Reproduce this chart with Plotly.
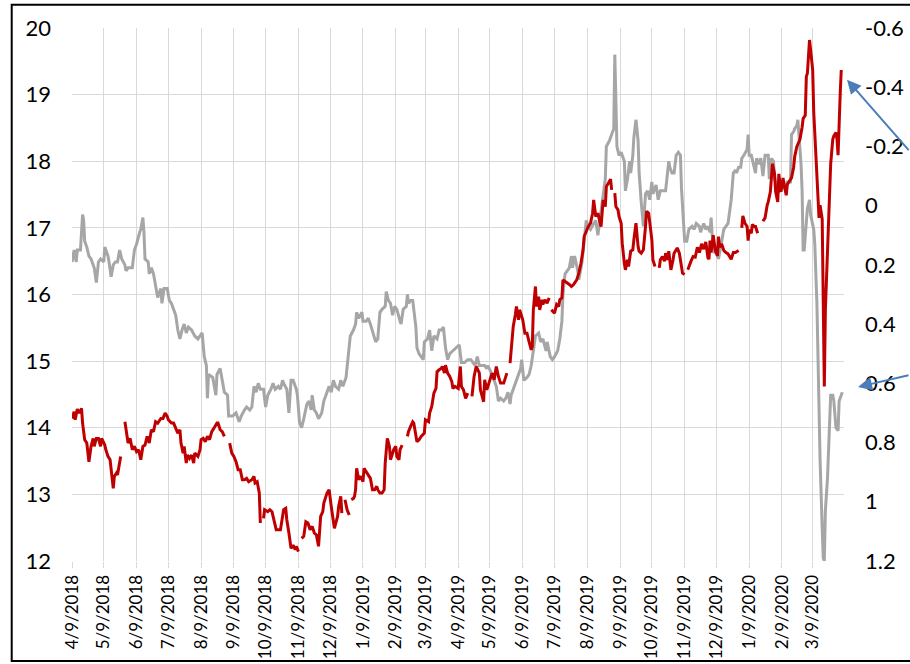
import pandas as pd
import plotly.graph_objects as go

start_date = "4/9/2018"
tick_labels = ["4/9/2018", "5/9/2018", "6/9/2018", "7/9/2018", "8/9/2018", "9/9/2018",
               "10/9/2018", "11/9/2018", "12/9/2018", "1/9/2019", "2/9/2019", "3/9/2019",
               "4/9/2019", "5/9/2019", "6/9/2019", "7/9/2019", "8/9/2019", "9/9/2019",
               "10/9/2019", "11/9/2019", "12/9/2019", "1/9/2020", "2/9/2020", "3/9/2020"]
left_ticks = [12, 13, 14, 15, 16, 17, 18, 19, 20]
right_ticks = [-0.6, -0.4, -0.2, 0, 0.2, 0.4, 0.6, 0.8, 1, 1.2]
right_tick_labels = ["-0.6", "-0.4", "-0.2", "0", "0.2", "0.4", "0.6", "0.8", "1", "1.2"]

# grey series (right axis, inverted) - days since start date
gray_days = [0, 2, 4, 5, 8, 10, 11, 12, 14, 16,
             18, 21, 23, 25, 27, 30, 31, 34, 35, 37,
             39, 41, 43, 45, 47, 50, 51, 53, 56, 57,
             59, 61, 64, 65, 67, 68, 69, 72, 73, 75,
             77, 79, 81, 84, 85, 87, 90, 92, 94, 96,
             98, 100, 102, 104, 106, 108, 110, 113,
             116, 119, 123, 125, 127, 128, 129, 133, 136, 137,
             140, 142, 144, 147, 148, 152, 155, 158, 160, 163,
             165, 168, 170, 172, 174, 176, 178, 181, 183, 185,
             188, 190, 192, 195, 197, 199, 200, 203, 205, 207,
             209, 212, 213, 215, 217, 219, 222, 224, 226, 227,
             229, 231, 233, 236, 238, 241, 243,
             245, 247, 249, 252, 254, 256, 259, 261, 263, 266,
             268, 269, 271, 274, 275, 278, 280, 282, 285, 287,
             289, 291, 293, 296, 297, 299, 301, 303, 305, 307,
             310, 311, 313, 316, 317, 318, 320, 322, 325, 326,
             328, 330, 332, 333, 336, 338, 340, 342, 345, 347,
             349, 351, 353, 355,
             357, 360, 363, 366, 368, 371, 374, 377, 379, 381,
             383, 385, 387, 390, 392, 393, 397, 399, 401, 403,
             405, 408, 410, 412, 414, 415, 417, 419, 422, 424,
             425, 427, 430, 432, 434, 436, 438, 441, 443, 445,
             448, 449, 452, 454, 456, 459, 461, 463, 464, 466,
             468, 470, 472, 473, 475,
             478, 479, 482, 484, 486, 488, 490, 493, 495, 497,
             500, 502, 504, 505, 508, 510, 512, 513, 515, 517,
             519, 522, 523, 525, 527, 528, 530, 531, 533, 535,
             536, 538, 540, 542, 544, 546, 548, 549, 552, 554,
             556, 559, 561, 564, 565, 567, 569, 571, 573, 575,
             576, 578, 579, 581, 583, 586, 588,
             590, 593, 594, 597, 599, 601, 603, 604, 605, 607,
             609, 611, 613, 616, 618, 620, 623, 625, 627, 628,
             630, 632, 633, 635, 638, 639, 640, 642, 644, 646,
             647, 649, 651, 653, 655, 658, 659, 661, 663, 664,
             667, 669, 671, 674, 676, 679, 680, 682, 683, 685,
             686, 687, 689, 690, 691, 692, 694, 695, 697, 698,
             701, 702, 704, 705, 707, 709, 710, 711, 712, 714,
             716, 717, 719, 720, 722, 724, 725, 727, 728]
gray_vals = [0.19, 0.15, 0.19, 0.15, 0.15, 0.03, 0.05, 0.12, 0.14, 0.17,
             0.18, 0.21, 0.26, 0.19, 0.18, 0.19, 0.14, 0.17, 0.19, 0.24,
             0.20, 0.19, 0.19, 0.15, 0.18, 0.20, 0.22, 0.21, 0.21, 0.21,
             0.15, 0.13, 0.09, 0.08, 0.04, 0.09, 0.18, 0.19, 0.23, 0.21,
             0.23, 0.27, 0.31, 0.28, 0.33, 0.28, 0.28, 0.32, 0.33, 0.35,
             0.37, 0.42, 0.45, 0.42, 0.40, 0.43, 0.41, 0.42,
             0.44, 0.45, 0.43, 0.51, 0.54, 0.65, 0.57, 0.58, 0.64, 0.57,
             0.55, 0.59, 0.63, 0.64, 0.71, 0.71, 0.70, 0.73, 0.71, 0.69,
             0.68, 0.69, 0.68, 0.61, 0.63, 0.60, 0.62, 0.62, 0.68, 0.64,
             0.62, 0.60, 0.62, 0.61, 0.62, 0.59, 0.60, 0.62, 0.70, 0.59,
             0.59, 0.62, 0.64, 0.73, 0.75, 0.72, 0.67, 0.66, 0.69, 0.64,
             0.69, 0.70, 0.72, 0.70, 0.66, 0.63, 0.61,
             0.63, 0.59, 0.61, 0.62, 0.59, 0.61, 0.58, 0.52, 0.44, 0.42,
             0.40, 0.36, 0.38, 0.36, 0.39, 0.39, 0.38, 0.40, 0.44, 0.46,
             0.45, 0.36, 0.35, 0.34, 0.29, 0.32, 0.33, 0.37, 0.34, 0.35,
             0.39, 0.40, 0.35, 0.34, 0.30, 0.33, 0.32, 0.32, 0.41, 0.48,
             0.50, 0.51, 0.52, 0.46, 0.45, 0.42, 0.49, 0.44, 0.45, 0.42,
             0.42, 0.41, 0.48, 0.52,
             0.50, 0.49, 0.48, 0.47, 0.53, 0.53, 0.52, 0.52, 0.53, 0.54,
             0.51, 0.54, 0.54, 0.54, 0.55, 0.54, 0.57, 0.59, 0.61, 0.66,
             0.65, 0.66, 0.65, 0.63, 0.67, 0.64, 0.62, 0.60, 0.57, 0.55,
             0.52, 0.59, 0.58, 0.57, 0.54, 0.49, 0.44, 0.43, 0.46, 0.45,
             0.49, 0.46, 0.51, 0.52, 0.51, 0.49, 0.45, 0.39, 0.30, 0.23,
             0.22, 0.21, 0.17, 0.21, 0.17,
             0.22, 0.25, 0.19, 0.12, 0.05, 0.07, 0.08, 0.06, 0.05, 0.10,
             0.01, -0.03, -0.09, -0.20, -0.22, -0.24, -0.26, -0.51, -0.20, -0.17,
             -0.18, -0.15, -0.05, -0.09, -0.15, -0.11, -0.17, -0.23, -0.29, -0.22,
             -0.11, -0.01, 0.07, -0.04, -0.05, -0.02, -0.08, -0.04, -0.07, -0.02,
             -0.05, -0.05, -0.05, -0.15, -0.13, -0.11, -0.11, -0.17, -0.18, -0.17,
             -0.06, 0.06, 0.12, 0.12, 0.08, 0.07, 0.08,
             0.06, 0.07, 0.09, 0.06, 0.08, 0.07, 0.09, 0.04, 0.10, 0.16,
             0.15, 0.18, 0.14, 0.08, 0.07, 0.06, -0.02, -0.11, -0.12, -0.11,
             -0.13, -0.13, -0.16, -0.17, -0.19, -0.24, -0.17, -0.17, -0.14, -0.11,
             -0.16, -0.14, -0.16, -0.10, -0.17, -0.17, -0.09, -0.16, -0.15, -0.09,
             -0.06, -0.05, -0.06, -0.06, -0.08, -0.08, -0.24, -0.25, -0.26, -0.27,
             -0.29, -0.24, -0.14, -0.05, 0.15, 0.15, 0.07, 0.01, -0.02, 0.03,
             0.08, 0.13, 0.33, 0.56, 0.86, 1.09, 1.19, 1.20, 1.03, 0.92,
             0.68, 0.64, 0.64, 0.66, 0.75, 0.76, 0.66, 0.64, 0.63]

# red series (left axis) - None marks breaks in the line
red_days = [0, 2, 3, 5, 7, 9, 10, 12, 14, 16, 18, 20, 21, 23, 25, 27, 28, 31, 32, 34,
            36, 38, 39, 40, 42, 43, 45, 46, 48,
            50, 52, 53, 55, 57, 59, 61, 63, 65, 67, 69, 71, 73, 75, 77, 79, 81, 84, 86, 88,
            90, 91, 94, 96, 98, 100, 102, 103, 105, 106, 108, 109, 111, 113, 115, 116, 119,
            121, 122, 124, 126, 128, 130, 132, 134, 137, 138, 140, 142, 144, 147,
            149, 151, 153, 155, 157, 159, 161, 163, 165, 167, 170, 172, 173, 175, 177, 178, 180,
            181, 182, 185, 187, 189, 191, 193, 195, 197, 199, 200, 202, 203, 205, 207, 209,
            211, 212, 214, 216,
            217, 219, 221, 223, 225, 227, 229, 231, 233, 235, 237, 238, 241, 243, 245, 247,
            248, 251, 252, 254, 255, 257,
            258, 260, 262, 263,
            264, 266, 267, 268, 269, 271, 273, 275, 276, 278, 281, 282, 284, 286, 288, 289,
            291, 293, 295, 296, 298, 300, 301, 303, 304, 306, 307, 309, 310, 312, 315,
            317, 318, 320, 322, 323, 325, 326, 328, 330, 333, 334, 337, 338, 340, 342, 344,
            345, 347, 349, 350, 352, 353, 355, 357, 359, 360, 362, 365, 367, 368, 370, 372,
            374, 376,
            378, 380, 382, 385, 386, 389, 390, 392, 394, 397, 399, 401, 403, 405, 408, 410,
            411, 413,
            414, 415, 417, 419, 420, 422, 423, 425, 426, 428, 430, 432, 434, 435, 436, 438,
            439, 441, 442, 444, 445, 447, 449, 451, 452,
            453, 455, 456, 458, 460, 461, 463, 464, 466, 468, 470, 472, 474, 477, 479, 481,
            483, 484, 486, 488, 490, 492, 493, 495, 497, 499, 500, 502, 504, 505, 507, 509,
            510, 511,
            513, 514, 516, 517, 519, 520, 522, 523, 525, 526, 528, 530, 531, 533, 535, 536,
            538, 540, 542, 543, 545, 546, 548, 549, 551, 553,
            555, 556, 558, 560, 561, 563, 564, 566, 568, 569, 571, 572, 574, 576, 577, 579, 580,
            582, 583, 585, 587, 589, 591, 593, 595, 597, 599, 601, 602, 603, 604, 606, 608,
            610, 611, 612, 614, 616, 618, 620, 623, 625, 627, 630, 631,
            633, 634, 636, 638, 639, 640, 642, 643, 645, 646, 648, 650,
            653, 655, 657, 658, 660, 661, 662, 664, 665, 667, 668, 670, 672, 673, 675, 676,
            678, 680, 682, 683, 685, 686, 688, 690, 691, 693, 694, 695, 697, 698, 700, 701,
            703, 705, 706, 707, 709, 710, 711, 712, 714, 716, 717, 719, 720, 722, 723, 724,
            725, 726, 727]
red_vals = [14.14, 14.24, 14.12, 14.28, 14.22, 14.29, 14.07, 13.82, 13.77, 13.49, 13.72, 13.84, 13.72, 13.84, 13.84, 13.72, 13.84, 13.74, 13.67, 13.57,
            13.52, 13.27, 13.09, 13.27, 13.32, 13.29, 13.47, 13.57, None,
            14.09, 13.87, 13.77, 13.84, 13.67, 13.72, 13.64, 13.67, 13.52, 13.72, 13.74, 13.87, 13.77, 13.97, 13.94, 14.09, 14.07, 14.14, 14.14, 14.22,
            14.17, 14.12, 14.07, 14.07, 13.99, 13.92, 13.97, 13.77, 13.62, 13.72, 13.47, 13.59, 13.54, 13.59, 13.47, 13.62, 13.57,
            13.67, 13.82, 13.84, 13.79, 13.87, 13.82, 13.94, 13.99, 14.07, 14.07, 13.97, 13.94, 13.87, None,
            13.77, 13.62, 13.57, 13.49, 13.37, 13.37, 13.22, 13.22, 13.24, 13.19, 13.22, 13.27, 13.17, 13.19, 13.02, 12.57, None,
            12.64, 12.77, 12.74, 12.77, 12.74, 12.62, 12.47, 12.47, 12.47, 12.67, 12.77, 12.79, 12.62, 12.42, 12.19, 12.24,
            12.17, 12.22, 12.14, None,
            12.34, 12.37, 12.59, 12.57, 12.47, 12.52, 12.42, 12.39, 12.22, 12.67, 12.74, 12.87, 13.02, 13.07, 12.82, 12.57,
            12.49, 12.67, 12.82, 12.97, 12.72, None,
            12.92, 12.77, 12.69, None,
            12.92, 12.94, 12.97, 13.07, 13.39, 13.22, 13.27, 13.19, 13.39, 13.34, 13.27, 13.24, 13.07, 13.07, 13.12, 13.07,
            13.02, 13.02, 13.07, 13.47, 13.84, 13.72, 13.52, 13.62, 13.67, 13.72, 13.57, 13.52, 13.67, 13.74, None,
            13.87, 13.94, 14.02, 14.09, 14.07, 13.89, 13.79, 13.82, 13.87, 13.92, 14.12, 14.09, 14.22, 14.32, 14.52, 14.59,
            14.84, 14.87, 14.89, 14.92, 14.82, 14.94, 14.82, 14.77, 14.69, 14.59, 14.62, 14.59, 14.92, 14.62, 14.57, 14.44,
            14.52, None,
            14.47, 14.77, 14.92, 14.82, 14.57, 14.39, 14.72, 14.57, 14.67, 14.82, 14.72, 14.92, 14.77, 14.67, 14.67, 14.77,
            14.82, None,
            14.97, 15.12, 15.52, 15.70, 15.82, 15.62, 15.77, 15.67, 15.62, 15.42, 15.42, 15.29, 15.17, 15.22, 15.77, 16.12,
            15.82, 15.97, 15.77, 15.92, 15.85, 15.92, 15.87, 15.95, None,
            15.77, 15.74, 15.72, 15.85, 15.82, 15.92, 15.95, 16.22, 16.20, 16.17, 16.15, 16.12, 16.15, 16.22, 16.32, 16.47,
            16.67, 16.87, 16.95, 17.02, 17.07, 17.22, 17.42, 17.17, 17.22, 17.10, 17.02, 17.42, 17.32, 17.62, 17.67, 17.73,
            17.57, None,
            17.52, 17.32, 17.27, 17.17, 17.07, 16.77, 16.47, 16.37, 16.52, 16.42, 16.65, 16.67, 16.82, 17.07, 16.72, 16.65,
            16.62, 16.67, 17.02, 17.25, 17.22, 17.10, 16.82, 16.52, 16.42, None,
            16.40, 16.52, 16.57, 16.50, 16.62, 16.52, 16.65, 16.37, 16.52, 16.62, 16.67, 16.70, 16.62, 16.37, 16.32, 16.30, None,
            16.37, 16.42, 16.50, 16.57, 16.56, 16.71, 16.63, 16.76, 16.68, 16.79, 16.55, 16.53, 16.81, 16.63, 16.89, 16.66,
            16.58, 16.87, 16.71, 16.76, 16.66, 16.63, 16.61, 16.53, 16.63, 16.63, 16.66, None,
            17.00, 17.18, 17.07, 17.02, 16.81, 16.97, 16.92, 17.05, 17.02, 17.02, 16.92, None,
            17.10, 17.15, 17.34, 17.39, 17.54, 17.75, 17.96, 17.81, 17.54, 17.39, 17.81, 17.54, 17.75, 17.65, 17.49, 17.65,
            17.70, 17.75, 17.91, 18.07, 18.22, 18.25, 18.33, 18.51, 18.64, 18.69, 19.27, 19.32, 19.82, 19.68, 19.37, 18.74,
            18.07, 17.34, 17.15, 17.34, 17.13, 15.87, 14.62, 15.77, 16.71, 17.44, 17.96, 18.33, 18.38, 18.43, 18.33, 18.09,
            18.43, 19.01, 19.37]

assert len(gray_days) == len(gray_vals), (len(gray_days), len(gray_vals))
assert len(red_days) == len(red_vals), (len(red_days), len(red_vals))

t0 = pd.to_datetime(start_date, format="%m/%d/%Y")
gray_x = t0 + pd.to_timedelta(gray_days, unit="D")
red_x = t0 + pd.to_timedelta(red_days, unit="D")
tick_dates = pd.to_datetime(tick_labels, format="%m/%d/%Y")
x_end = t0 + pd.Timedelta(days=729.6)

FONT = "Lato, 'Open Sans', sans-serif"
GRID = "#d9d9d9"

fig = go.Figure()
fig.add_trace(go.Scatter(x=gray_x, y=gray_vals, yaxis="y", mode="lines",
                         line=dict(color="#a6a6a6", width=3), hoverinfo="skip"))
fig.add_trace(go.Scatter(x=red_x, y=red_vals, yaxis="y2", mode="lines", connectgaps=False,
                         line=dict(color="#c00000", width=3), hoverinfo="skip"))

fig.update_layout(
    width=910, height=664,
    margin=dict(l=72, r=66, t=28, b=103, autoexpand=False),
    paper_bgcolor="white", plot_bgcolor="white",
    showlegend=False,
    xaxis=dict(type="date", range=[t0, x_end], tickmode="array", automargin=False,
               tickvals=tick_dates, ticktext=tick_labels, tickangle=-90,
               showgrid=True, gridcolor=GRID, gridwidth=1,
               ticks="outside", ticklen=6, tickcolor=GRID,
               showline=False, zeroline=False,
               tickfont=dict(family=FONT, size=17, color="black")),
    yaxis=dict(side="right", range=[1.2, -0.6], tickmode="array", automargin=False,
               tickvals=right_ticks, ticktext=right_tick_labels,
               showgrid=False, zeroline=False, showline=False,
               ticklabelstandoff=20,
               tickfont=dict(family=FONT, size=22, color="black")),
    yaxis2=dict(side="left", overlaying="y", range=[12, 20], tickmode="array", automargin=False,
                tickvals=left_ticks, showgrid=True, gridcolor=GRID, gridwidth=1,
                zeroline=False, showline=False, ticklabelstandoff=20,
                tickfont=dict(family=FONT, size=22, color="black")),
)

# outer chart frame
fig.add_shape(type="rect", xref="paper", yref="paper",
              x0=-0.0781, x1=1.2, y0=-0.1877, y1=1.0437,
              line=dict(color="black", width=2), fillcolor="rgba(0,0,0,0)", layer="above")

# callout arrows
ARROW = "#4a7ebb"
fig.add_annotation(xref="paper", yref="paper", x=1.0039, y=0.903, ax=65, ay=72,
                   text="", showarrow=True, arrowhead=2, arrowsize=1.4,
                   arrowwidth=2, arrowcolor=ARROW)
fig.add_annotation(xref="paper", yref="paper", x=1.0182, y=0.3266, ax=57, ay=-12,
                   text="", showarrow=True, arrowhead=2, arrowsize=1.4,
                   arrowwidth=2, arrowcolor=ARROW)

fig.write_html("out.html", config={"displayModeBar": False},
               post_script="document.body.style.margin='0';document.body.style.overflow='hidden';")
